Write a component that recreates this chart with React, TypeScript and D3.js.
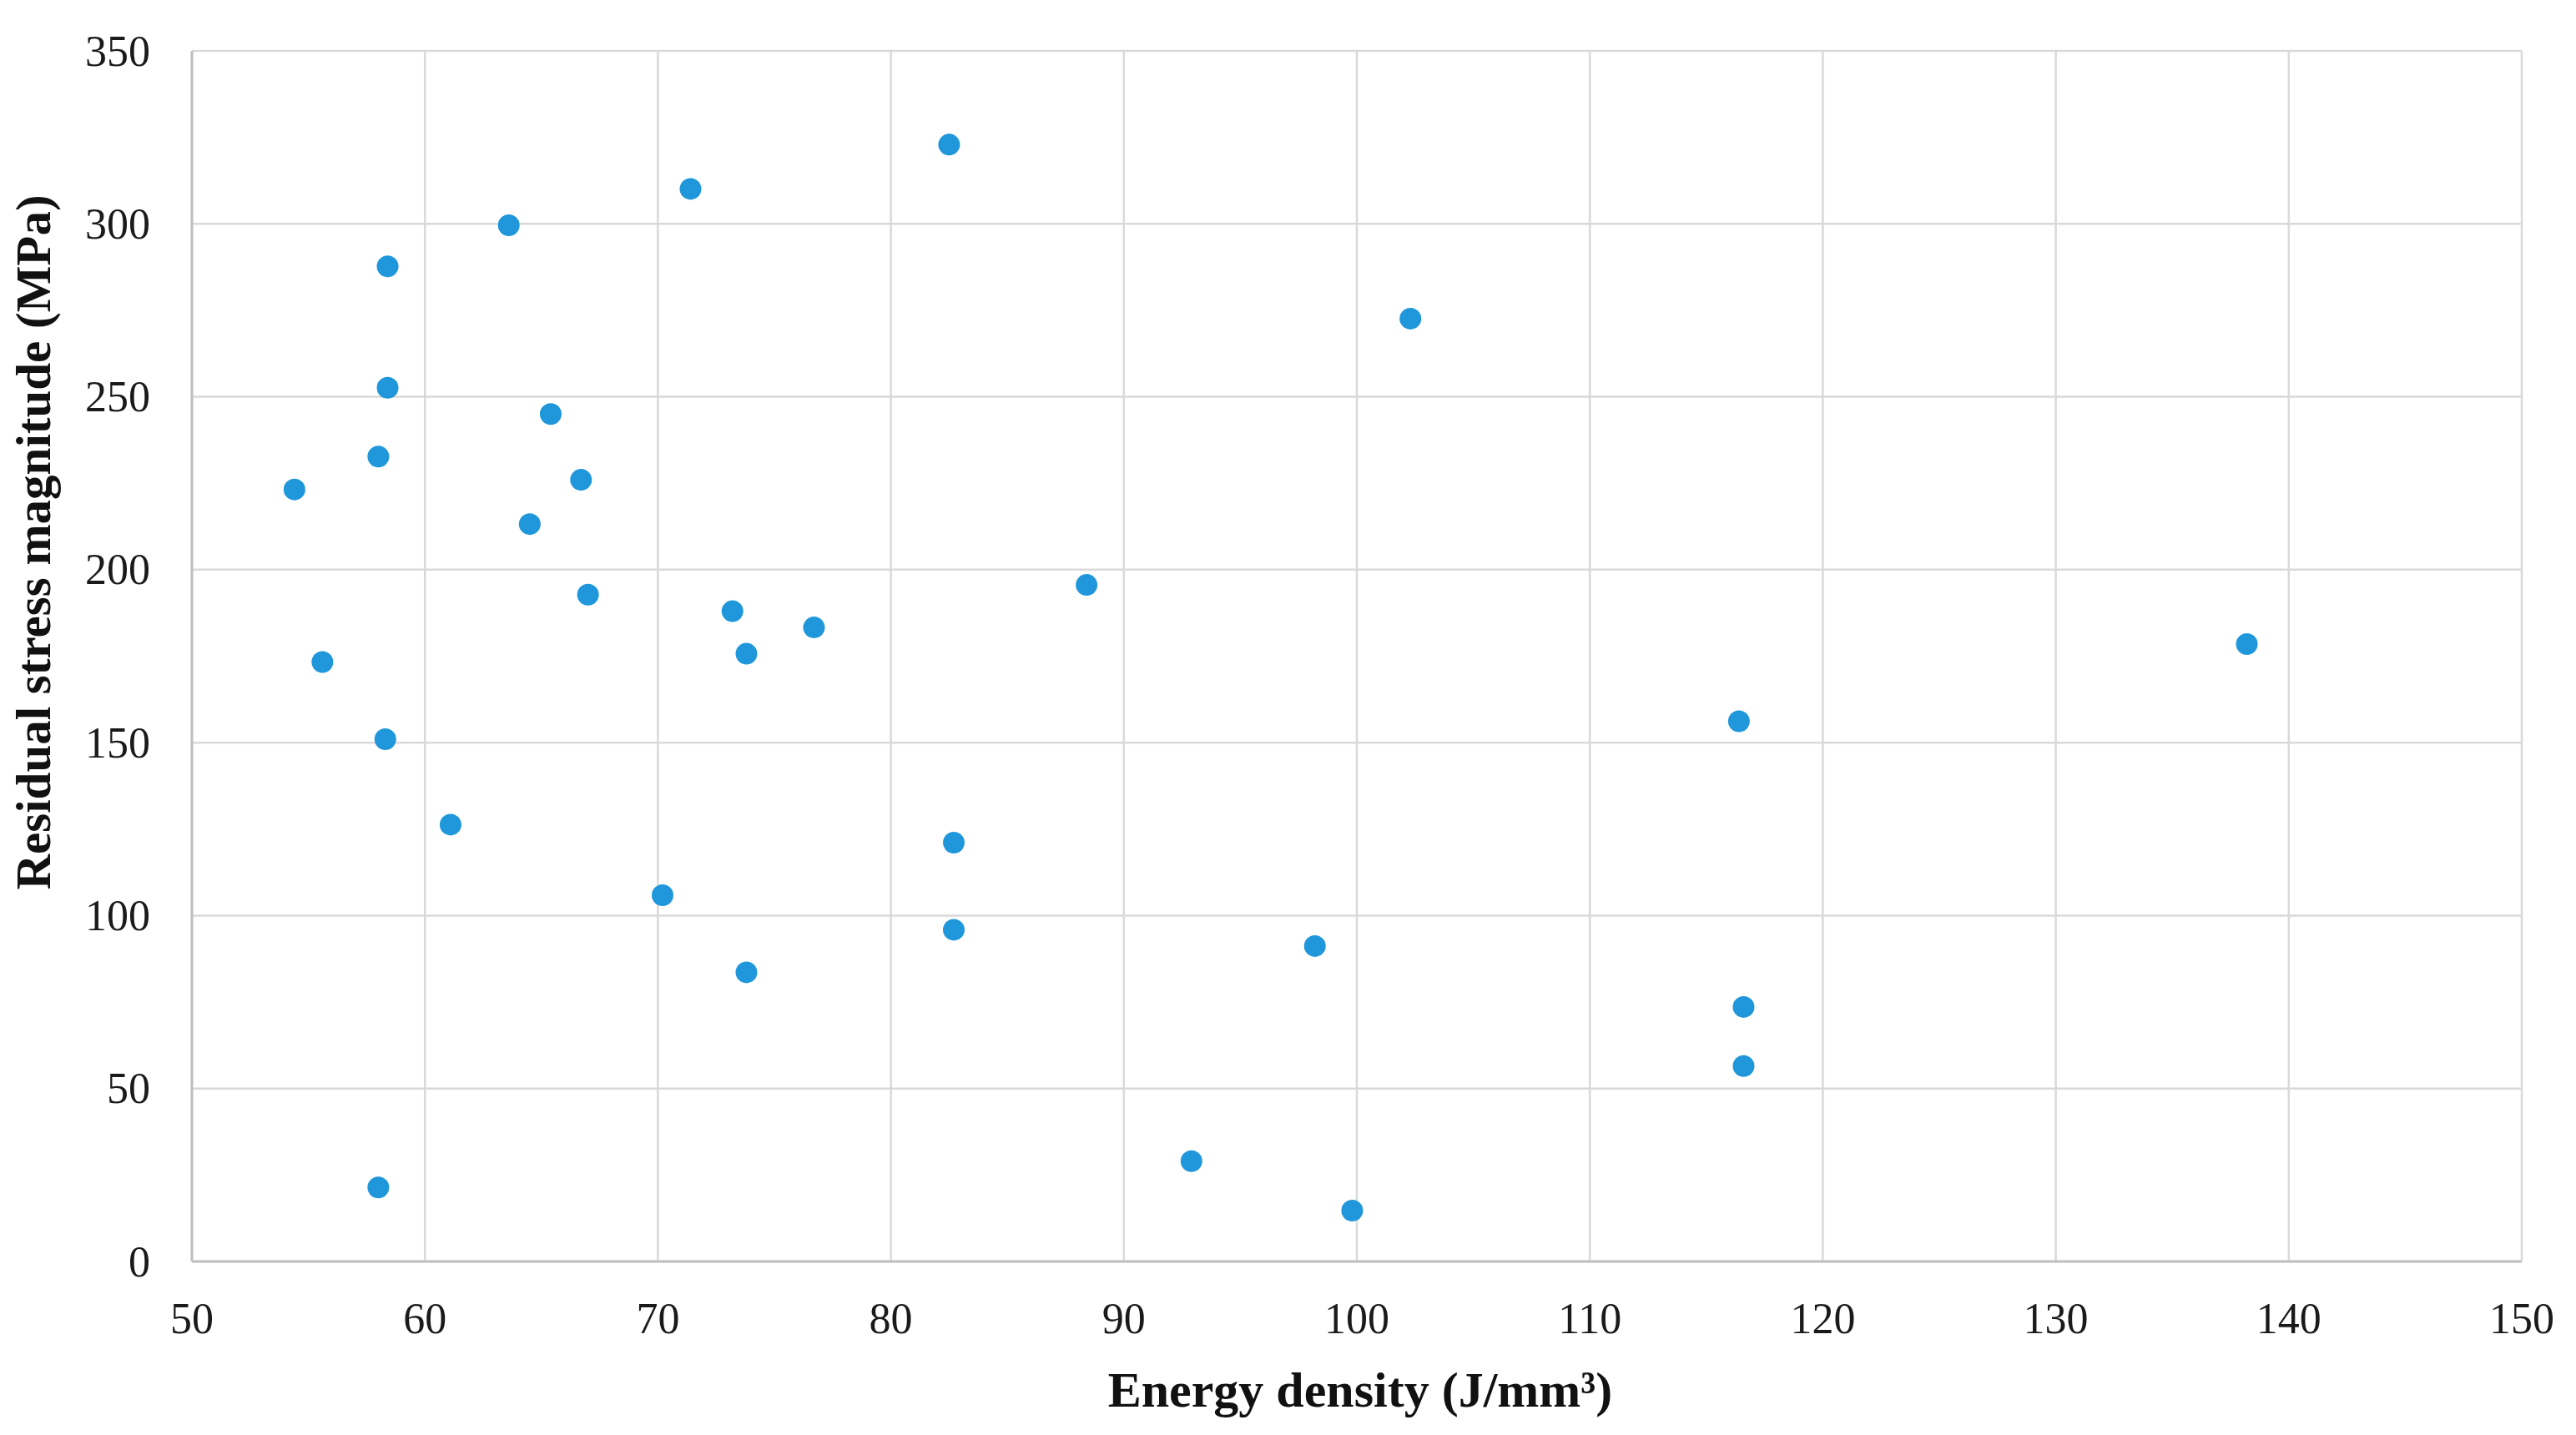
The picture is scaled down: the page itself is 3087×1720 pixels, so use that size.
import React, { useMemo } from "react";
import { scaleLinear } from "d3";

// energy density (J/mm³) vs residual stress (MPa)
const energyDensity = [
  54.4, 55.6, 58.0, 58.4, 58.4, 58.3, 58.0, 61.1, 63.6, 64.5, 65.4, 66.7, 67.0,
  70.2, 71.4, 73.2, 73.8, 73.8, 76.7, 82.5, 82.7, 82.7, 88.4, 92.9, 98.2, 99.8,
  102.3, 116.4, 116.6, 116.6, 138.2,
];
const residualStress = [
  223.2, 173.3, 232.7, 287.7, 252.6, 151.0, 21.4, 126.3, 299.6, 213.2, 245.0,
  226.0, 192.8, 105.9, 310.1, 188.0, 175.7, 83.6, 183.3, 322.9, 121.1, 95.9,
  195.6, 29.0, 91.2, 14.7, 272.6, 156.2, 73.6, 56.5, 178.5,
];
const xTicks = [50, 60, 70, 80, 90, 100, 110, 120, 130, 140, 150];
const yTicks = [0, 50, 100, 150, 200, 250, 300, 350];

const xTitle = "Energy density (J/mm³)";
const yTitle = "Residual stress magnitude (MPa)";

const W = 3087;
const H = 1720;
const margin = { top: 61, right: 65, bottom: 208, left: 230 };

const font = "'Liberation Serif', 'Times New Roman', serif";

export default function App() {
  const x = useMemo(
    () => scaleLinear().domain([50, 150]).range([margin.left, W - margin.right]),
    []
  );
  const y = useMemo(
    () => scaleLinear().domain([0, 350]).range([H - margin.bottom, margin.top]),
    []
  );

  const [x0, x1] = x.range();
  const [y0, y1] = y.range();

  return (
    <svg
      width={W}
      height={H}
      style={{ position: "absolute", left: 0, top: 0, background: "white" }}
    >
      {/* grid */}
      <g stroke="#d9d9d9" strokeWidth={2.5}>
        {xTicks.map((t) => (
          <line key={"gx" + t} x1={x(t)} x2={x(t)} y1={y1} y2={y0} />
        ))}
        {yTicks.map((t) => (
          <line key={"gy" + t} x1={x0} x2={x1} y1={y(t)} y2={y(t)} />
        ))}
      </g>
      {/* axis lines */}
      <g stroke="#bfbfbf" strokeWidth={3}>
        <line x1={x0} x2={x0} y1={y1} y2={y0} />
        <line x1={x0} x2={x1} y1={y0} y2={y0} />
      </g>

      {/* tick labels */}
      <g fontFamily={font} fontSize={52} fill="#1a1a1a">
        {yTicks.map((t) => (
          <text
            key={"ty" + t}
            x={x0 - 50}
            y={y(t)}
            textAnchor="end"
            dominantBaseline="central"
          >
            {t}
          </text>
        ))}
        {xTicks.map((t) => (
          <text
            key={"tx" + t}
            x={x(t)}
            y={y0 + 68}
            textAnchor="middle"
            dominantBaseline="central"
          >
            {t}
          </text>
        ))}
      </g>

      {/* axis titles */}
      <text
        x={1630}
        y={1666}
        textAnchor="middle"
        dominantBaseline="central"
        fontFamily={font}
        fontWeight="bold"
        fontSize={60}
        fill="#111"
      >
        {xTitle}
      </text>
      <text
        transform={`translate(40, 650) rotate(-90)`}
        textAnchor="middle"
        dominantBaseline="central"
        fontFamily={font}
        fontWeight="bold"
        fontSize={59}
        fill="#111"
      >
        {yTitle}
      </text>

      {/* points */}
      <g fill="#1f97da">
        {energyDensity.map((e, i) => (
          <circle key={i} cx={x(e)} cy={y(residualStress[i])} r={13} />
        ))}
      </g>
    </svg>
  );
}
